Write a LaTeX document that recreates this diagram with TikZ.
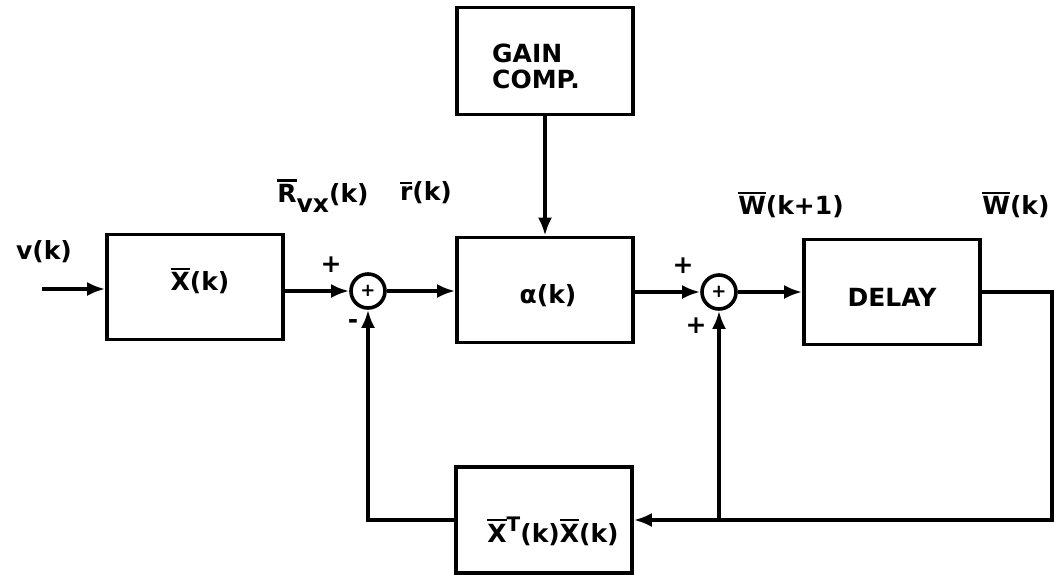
\documentclass[tikz,border=0pt]{standalone}
\usepackage{fontspec}
\setmainfont{DejaVu Sans}
\usetikzlibrary{arrows.meta}
\newcommand\ob[1]{\leavevmode\setbox0\hbox{#1}\rlap{\raisebox{\dimexpr\ht0+1.3pt\relax}{\rule{\wd0}{1.2pt}}}\box0}
\begin{document}
\begin{tikzpicture}[x=0.5pt,y=-0.5pt,
  every node/.style={font=\fontsize{12.5}{12.5}\selectfont\bfseries},
  blk/.style={draw,line width=1.8pt,minimum width=88pt,minimum height=52.5pt,inner sep=0pt},
  sumc/.style={draw,circle,line width=1.8pt,minimum size=17pt,inner sep=0pt,font=\fontsize{9}{9}\selectfont\bfseries},
  lbl/.style={inner sep=0pt},
  wire/.style={line width=1.8pt},
  arr/.style={wire,-{Latex[length=9pt,width=7pt]}}]
\useasboundingbox (0,0) rectangle (1055,574);
% blocks
\node[blk] (xb) at (195,287) {};
\node[blk] (al) at (545,290) {};
\node[blk,minimum height=53.5pt] (gc) at (545,61) {};
\node[blk] (dl) at (892,292) {};
\node[blk,minimum height=53pt] (bt) at (544,520) {};
\node[sumc] (s1) at (368,291) {+};
\node[sumc] (s2) at (719,292) {+};
% block texts
\node[lbl] (xt) at (200,281) {\ob{X}(k)};
\node[lbl] (at) at (548,296) {α(k)};
\node[lbl] (dt) at (892,297) {DELAY};
\node[lbl,align=left] (gt) at (536,66) {GAIN\\[0.5pt]COMP.};
\node[lbl] (bx) at (553,531) {\ob{X}\raisebox{0.8ex}{\fontsize{10}{10}\selectfont T}(k)\ob{X}(k)};
% signal labels
\node[lbl] (vk) at (44,252) {v(k)};
\node[lbl] (rv) at (323,196) {\ob{R}\raisebox{-0.75ex}{vx}(k)};
\node[lbl] (rk) at (426,193) {\ob{r}(k)};
\node[lbl] (wk1) at (791,205) {\ob{W}(k+1)};
\node[lbl] (wk) at (1016,205) {\ob{W}(k)};
% signs
\node[lbl] (p1) at (331,265) {+};
\node[lbl] (m1) at (353,324) {-};
\node[lbl] (p2) at (683,266) {+};
\node[lbl] (p3) at (696,326) {+};
% connectors
\coordinate (in) at (42,289);
\coordinate (rc) at (1052,520);
\coordinate (j) at (719,520);
\draw[arr] (in) -- (xb.west |- in);
\draw[arr] (xb.east |- s1.west) -- (s1.west);
\draw[arr] (s1.east) -- (al.west |- s1.east);
\draw[arr] (gc.south) -- (al.north);
\draw[arr] (al.east |- s2.west) -- (s2.west);
\draw[arr] (s2.east) -- (dl.west |- s2.east);
\draw[arr] (dl.east) -| (rc) -- (bt.east);
\draw[arr] (j) -- (s2.south);
\draw[arr] (bt.west) -| (s1.south);
\end{tikzpicture}
\end{document}
